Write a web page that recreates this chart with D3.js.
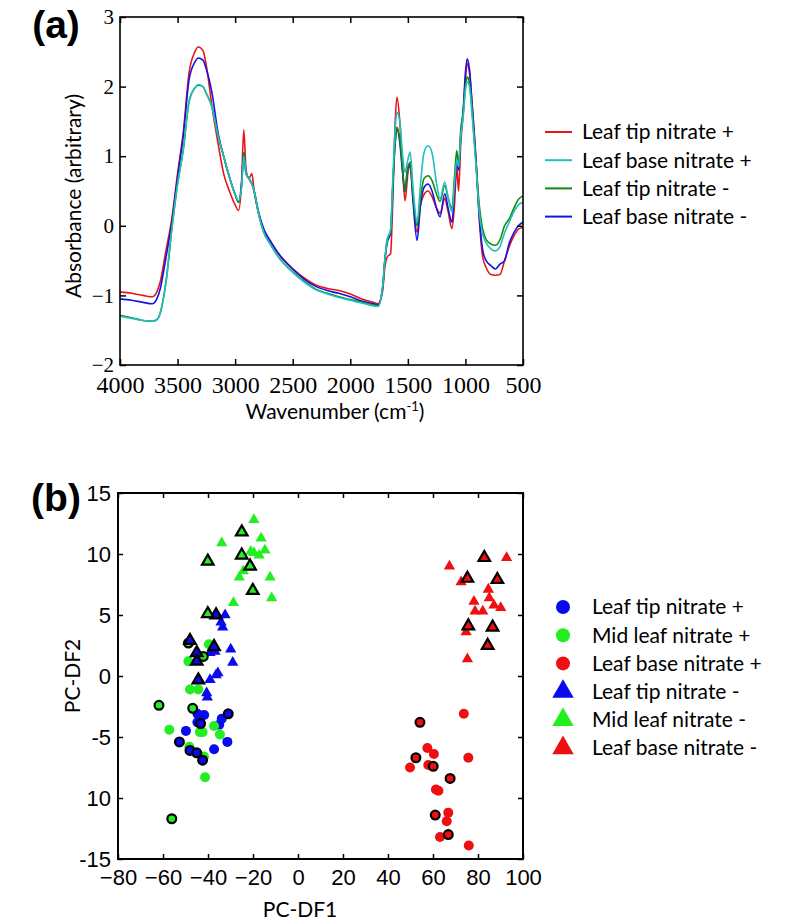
<!DOCTYPE html>
<html><head><meta charset="utf-8">
<script src="https://cdn.jsdelivr.net/npm/d3@7"></script>
<style>body{margin:0;background:#fff} svg{display:block}
.serif text{font-family:"Liberation Serif","Times New Roman",Times,serif !important;}
</style>
</head><body>
<svg id="chart" width="797" height="924"></svg>
<script>
// ---------------- DATA: panel (a) ----------------
const wavenumbers = [4000,3900,3800,3720,3680,3650,3600,3550,3500,3450,3400,3350,3320,3280,3250,3200,3150,3100,3050,3000,2970,2945,2925,2905,2880,2855,2835,2800,2750,2700,2600,2500,2400,2300,2200,2100,2000,1900,1800,1760,1720,1700,1680,1650,1630,1610,1595,1570,1545,1525,1500,1480,1455,1420,1390,1360,1325,1290,1250,1220,1180,1150,1117,1095,1075,1060,1040,1020,1000,985,965,940,910,880,850,820,780,740,700,660,620,580,540,500];
const leafTipNitratePlus = [-0.95,-0.97,-1.0,-1.02,-0.95,-0.8,-0.35,0.1,0.75,1.35,2.2,2.5,2.57,2.52,2.3,1.7,1.2,0.75,0.5,0.3,0.22,0.6,1.38,0.8,0.68,0.75,0.5,0.2,-0.08,-0.22,-0.45,-0.62,-0.75,-0.85,-0.9,-0.93,-0.98,-1.05,-1.1,-1.12,-0.95,-0.6,-0.45,-0.4,0.4,1.5,1.85,1.5,0.8,0.36,0.75,0.92,0.4,-0.09,0.3,0.45,0.5,0.42,0.25,0.18,0.39,0.2,-0.04,0.3,0.85,0.5,1.2,1.6,2.1,2.33,2.2,1.7,1.0,0.1,-0.45,-0.6,-0.7,-0.71,-0.7,-0.5,-0.3,-0.15,-0.05,-0.02];
const leafBaseNitratePlus = [-1.3,-1.33,-1.36,-1.37,-1.35,-1.25,-0.8,-0.05,0.6,1.1,1.8,1.98,2.03,2.0,1.9,1.7,1.3,1.0,0.7,0.45,0.36,0.55,1.0,0.75,0.68,0.6,0.5,0.2,-0.1,-0.25,-0.5,-0.67,-0.81,-0.92,-0.98,-1.03,-1.07,-1.11,-1.15,-1.16,-0.9,-0.5,-0.2,-0.05,0.7,1.4,1.63,1.5,1.0,0.77,0.95,1.06,0.55,0.05,0.6,1.05,1.15,1.05,0.6,0.39,0.63,0.4,0.2,0.6,0.95,0.85,1.3,1.55,1.95,2.07,2.0,1.55,0.9,0.2,-0.12,-0.25,-0.33,-0.36,-0.3,-0.1,0.05,0.2,0.3,0.34];
const leafTipNitrateMinus = [-1.29,-1.32,-1.36,-1.37,-1.35,-1.25,-0.8,-0.05,0.6,1.1,1.78,1.98,2.02,2.0,1.9,1.7,1.3,1.0,0.7,0.45,0.34,0.55,1.05,0.75,0.68,0.6,0.5,0.2,-0.1,-0.25,-0.5,-0.66,-0.8,-0.91,-0.97,-1.02,-1.06,-1.1,-1.14,-1.15,-0.9,-0.5,-0.2,-0.1,0.6,1.2,1.42,1.25,0.8,0.5,0.85,0.9,0.45,0.0,0.4,0.68,0.72,0.65,0.45,0.35,0.58,0.4,0.25,0.7,1.08,0.85,1.4,1.62,2.0,2.14,2.05,1.6,0.95,0.3,-0.05,-0.2,-0.26,-0.28,-0.2,0.0,0.1,0.25,0.38,0.43];
const leafBaseNitrateMinus = [-1.05,-1.07,-1.1,-1.12,-1.05,-0.9,-0.45,0.05,0.7,1.3,2.1,2.35,2.41,2.38,2.25,1.9,1.35,1.0,0.7,0.45,0.34,0.6,1.05,0.75,0.68,0.6,0.5,0.22,-0.05,-0.2,-0.45,-0.62,-0.77,-0.87,-0.93,-0.97,-1.02,-1.08,-1.12,-1.14,-0.9,-0.5,-0.25,-0.1,0.6,1.2,1.39,1.2,0.75,0.49,0.85,0.85,0.35,-0.21,0.3,0.55,0.6,0.5,0.25,0.13,0.46,0.25,0.05,0.5,0.9,0.8,1.3,1.65,2.2,2.4,2.25,1.7,1.0,0.15,-0.35,-0.5,-0.57,-0.62,-0.55,-0.5,-0.25,-0.1,0.0,0.05];
const seriesNamesA = ["Leaf tip nitrate +","Leaf base nitrate +","Leaf tip nitrate -","Leaf base nitrate -"];
const xTicksA = [4000,3500,3000,2500,2000,1500,1000,500];
const yTicksA = [-2,-1,0,1,2,3];

// ---------------- DATA: panel (b) ----------------
const tipPlus = [[-44.7,-3.1],[-43.6,-3.5],[-41.7,-3.2],[-44.7,-3.8],[-49.8,-4.5],[-35,-4.0],[-33.9,-3.5],[-31.4,-5.4],[-37.3,-6.0]];
const tipPlusOutlined = [[-43.3,-3.9],[-31,-3.1],[-52.7,-5.4],[-48,-6.1],[-45,-6.3],[-42.4,-6.9]];
const midPlus = [[-39.6,2.6],[-48.7,1.2],[-48,-1.1],[-44.3,-1.1],[-57.2,-4.4],[-43.6,-4.6],[-42.4,-4.6],[-37.3,-4.1],[-34.7,-4.8],[-41.3,-8.3],[-48.3,-5.8],[-41.8,-6.6]];
const midPlusOutlined = [[-61.8,-2.4],[-46.8,-2.65],[-56.1,-11.7],[-48.7,2.7],[-42.1,1.6]];
const basePlus = [[73.7,-3.1],[57.5,-5.9],[60.4,-6.4],[57.9,-7.3],[49.8,-7.5],[75.7,-6.7],[61.3,-9.3],[62.4,-9.4],[66.8,-11.2],[66.1,-11.9],[63.1,-13.2],[75.9,-13.9]];
const basePlusOutlined = [[54.2,-3.8],[52.4,-6.7],[60.1,-7.4],[67.6,-8.4],[61,-11.4],[66.8,-13.0]];
const tipMinus = [[-32.4,5.0],[-34.2,4.4],[-33.5,4.0],[-29.9,2.2],[-29.0,1.1],[-39.1,1.9],[-36.9,2.0],[-39.1,-0.3],[-35.6,0.25],[-36.4,0.08],[-40.6,-1.4],[-40.3,-1.75]];
const tipMinusOutlined = [[-36.4,5.0],[-37.3,2.4],[-45,1.9],[-45,1.2],[-44.3,-0.33],[-48,2.9]];
const midMinus = [[-19.6,12.8],[-33.9,10.9],[-16.4,11.3],[-21,10.2],[-19.6,10.1],[-17.3,9.9],[-14.7,10.3],[-12.4,8.1],[-24.3,8.6],[-26.1,8.1],[-11.7,6.4],[-28.7,6.0]];
const midMinusOutlined = [[-25.0,11.8],[-40.1,9.4],[-25.0,9.9],[-21.3,9.0],[-20.1,7.0],[-40.1,5.1]];
const baseMinus = [[67.3,9.0],[92.7,9.7],[72.5,7.7],[84.6,7.1],[78.2,6.1],[85.0,6.4],[87.1,5.8],[90.1,5.6],[78.7,5.3],[82.1,5.3],[74.7,3.6],[75.3,1.4]];
const baseMinusOutlined = [[82.8,9.7],[75.3,8.0],[88.6,7.9],[75.7,4.1],[86.5,4.0],[84.3,2.5]];
const seriesNamesB = ["Leaf tip nitrate +","Mid leaf nitrate +","Leaf base nitrate +","Leaf tip nitrate -","Mid leaf nitrate -","Leaf base nitrate -"];
const xTicksB = [-80,-60,-40,-20,0,20,40,60,80,100];
const yTicksB = [-15,-10,-5,0,5,10,15];
const yTickLabelsB = ["-15","10","-5","0","5","10","15"];

// ---------------- STYLE ----------------
const colorsA = ["#e8141c","#22bfbf","#108a10","#1414e0"];
const colorsB = ["#0a0aee","#22ee22","#ee1010","#0a0aee","#22ee22","#ee1010"];
const sans = "Lato, 'Open Sans', sans-serif";
const serif = "'Liberation Serif', 'Times New Roman', Times, serif";
const arial = "'Liberation Sans', Arial, sans-serif";

const svg = d3.select("#chart");

// ================= PANEL (a) =================
const xA = d3.scaleLinear().domain([4000,500]).range([120,523]);
const yA = d3.scaleLinear().domain([-2,3]).range([365,17]);
const gA = svg.append("g");

const seriesA = [leafTipNitratePlus, leafBaseNitratePlus, leafTipNitrateMinus, leafBaseNitrateMinus];
const drawOrder = [0,3,2,1];
const lineA = d3.line().x((d,i)=>xA(wavenumbers[i])).y(d=>yA(d)).curve(d3.curveMonotoneX);
drawOrder.forEach(k=>{
  gA.append("path").attr("d", lineA(seriesA[k])).attr("fill","none")
    .attr("stroke", colorsA[k]).attr("stroke-width",1.6).attr("stroke-linejoin","round");
});

function styleAxis(g, fontFamily, fontSize, sw){
  g.attr("font-family", fontFamily).attr("font-size", fontSize);
  g.select(".domain").remove();
  g.selectAll(".tick line").attr("stroke","#000").attr("stroke-width",sw);
  g.selectAll(".tick text").attr("fill","#000").attr("font-family",fontFamily).attr("font-size",fontSize);
}
gA.append("g").attr("class","serif").attr("transform","translate(0,365)")
  .call(d3.axisBottom(xA).tickValues(xTicksA).tickSize(-6).tickPadding(11).tickFormat(d3.format("d")))
  .call(g=>styleAxis(g, serif, 24, 1.5));
gA.append("g").attr("transform","translate(0,17)")
  .call(d3.axisTop(xA).tickValues(xTicksA).tickSize(-6).tickFormat(""))
  .call(g=>styleAxis(g, serif, 24, 1.5));
gA.append("g").attr("class","serif").attr("transform","translate(120,0)")
  .call(d3.axisLeft(yA).tickValues(yTicksA).tickSize(-6).tickPadding(6).tickFormat(d3.format("d")))
  .call(g=>styleAxis(g, serif, 21, 1.5));
gA.append("g").attr("transform","translate(523,0)")
  .call(d3.axisRight(yA).tickValues(yTicksA).tickSize(-6).tickFormat(""))
  .call(g=>styleAxis(g, serif, 21, 1.5));
gA.append("rect").attr("x",120).attr("y",17).attr("width",403).attr("height",348)
  .attr("fill","none").attr("stroke","#000").attr("stroke-width",1.6);

// axis titles
const xtA = gA.append("text").attr("x",335).attr("y",419).attr("text-anchor","middle")
  .attr("font-family",sans).attr("font-size",21).attr("fill","#000");
xtA.append("tspan").text("Wavenumber (cm");
xtA.append("tspan").attr("dy",-8).attr("font-size",13).text("-1");
xtA.append("tspan").attr("dy",8).text(")");
gA.append("text").attr("transform","translate(81,196) rotate(-90)").attr("text-anchor","middle")
  .attr("font-family",sans).attr("font-size",21).attr("fill","#000").text("Absorbance (arbitrary)");
svg.append("text").attr("x",56).attr("y",38).attr("text-anchor","middle")
  .attr("font-family",arial).attr("font-weight","bold").attr("font-size",39).text("(a)");

// legend (a)
const legA = svg.append("g");
seriesNamesA.forEach((name,i)=>{
  const y = 132 + i*28.2;
  legA.append("line").attr("x1",545).attr("x2",572).attr("y1",y).attr("y2",y)
    .attr("stroke",colorsA[i]).attr("stroke-width",2);
  legA.append("text").attr("x",582).attr("y",y).attr("dy","0.35em")
    .attr("font-family",sans).attr("font-size",21).attr("fill","#000").text(name);
});

// ================= PANEL (b) =================
const xB = d3.scaleLinear().domain([-80,100]).range([118,523]);
const yB = d3.scaleLinear().domain([-15,15]).range([859,493]);
const gB = svg.append("g");

gB.append("g").attr("transform","translate(0,859)")
  .call(d3.axisBottom(xB).tickValues(xTicksB).tickSize(-5).tickPadding(10).tickFormat(d3.format("d")))
  .call(g=>styleAxis(g, arial, 22, 1.5));
gB.append("g").attr("transform","translate(0,493)")
  .call(d3.axisTop(xB).tickValues(xTicksB).tickSize(-5).tickFormat(""))
  .call(g=>styleAxis(g, arial, 22, 1.5));
gB.append("g").attr("transform","translate(118,0)")
  .call(d3.axisLeft(yB).tickValues(yTicksB).tickSize(-5).tickPadding(7).tickFormat((d,i)=>yTickLabelsB[i]))
  .call(g=>styleAxis(g, arial, 22, 1.5));
gB.append("g").attr("transform","translate(523,0)")
  .call(d3.axisRight(yB).tickValues(yTicksB).tickSize(-5).tickFormat(""))
  .call(g=>styleAxis(g, arial, 22, 1.5));
gB.append("rect").attr("x",118).attr("y",493).attr("width",405).attr("height",366)
  .attr("fill","none").attr("stroke","#000").attr("stroke-width",2);

const groupsB = [
  {pts: tipPlus, out: tipPlusOutlined, shape: "circle", c: 0},
  {pts: midPlus, out: midPlusOutlined, shape: "circle", c: 1},
  {pts: basePlus, out: basePlusOutlined, shape: "circle", c: 2},
  {pts: tipMinus, out: tipMinusOutlined, shape: "triangle", c: 3},
  {pts: midMinus, out: midMinusOutlined, shape: "triangle", c: 4},
  {pts: baseMinus, out: baseMinusOutlined, shape: "triangle", c: 5}
];
const triSym = d3.symbol().type(d3.symbolTriangle).size(55);
const triSymOut = d3.symbol().type(d3.symbolTriangle).size(58);
function drawMarkers(g, pts, shape, color, outlined){
  pts.forEach(p=>{
    if(shape==="circle"){
      g.append("circle").attr("cx",xB(p[0])).attr("cy",yB(p[1])).attr("r", outlined?4.4:5)
        .attr("fill",color).attr("stroke", outlined?"#000":"none").attr("stroke-width", outlined?2.2:0);
    } else {
      g.append("path").attr("d", outlined?triSymOut():triSym())
        .attr("transform",`translate(${xB(p[0])},${yB(p[1])})`)
        .attr("fill",color).attr("stroke", outlined?"#000":"none").attr("stroke-width", outlined?2.2:0)
        .attr("stroke-linejoin","miter");
    }
  });
}
const mk = gB.append("g");
groupsB.forEach(gr=> drawMarkers(mk, gr.pts, gr.shape, colorsB[gr.c], false));
groupsB.forEach(gr=> drawMarkers(mk, gr.out, gr.shape, colorsB[gr.c], true));

// axis titles (b)
gB.append("text").attr("x",300).attr("y",917).attr("text-anchor","middle")
  .attr("font-family",sans).attr("font-size",21).attr("fill","#000").text("PC-DF1");
gB.append("text").attr("transform","translate(80,676) rotate(-90)").attr("text-anchor","middle")
  .attr("font-family",sans).attr("font-size",21).attr("fill","#000").text("PC-DF2");
svg.append("text").attr("x",56).attr("y",511).attr("text-anchor","middle")
  .attr("font-family",arial).attr("font-weight","bold").attr("font-size",39).text("(b)");

// legend (b)
const legB = svg.append("g");
const legTri = d3.symbol().type(d3.symbolTriangle).size(200);
seriesNamesB.forEach((name,i)=>{
  const y = 607 + i*28.2;
  const gr = groupsB[i];
  if(gr.shape==="circle"){
    legB.append("circle").attr("cx",563).attr("cy",y).attr("r",7).attr("fill",colorsB[i]);
  } else {
    legB.append("path").attr("d",legTri()).attr("transform",`translate(563,${y})`).attr("fill",colorsB[i]);
  }
  legB.append("text").attr("x",592).attr("y",y).attr("dy","0.35em")
    .attr("font-family",sans).attr("font-size",21).attr("fill","#000").text(name);
});
</script>
</body></html>
